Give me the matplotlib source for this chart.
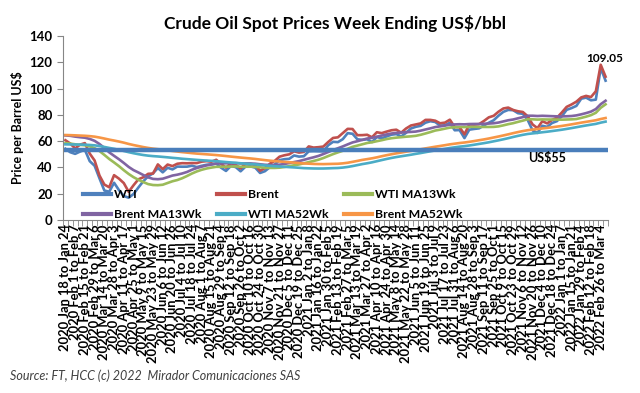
import matplotlib
matplotlib.use("Agg")
import matplotlib.pyplot as plt
import numpy as np

plt.rcParams['font.family'] = ['Lato', 'DejaVu Sans']

# weekly spot prices US$/bbl (first week: 2020 Jan 18-24, one extra week after Mar 4 2022)
wti = [54.19, 51.56, 50.32, 52.05, 53.38, 44.76, 41.28, 31.73, 22.43, 21.51,
       28.34, 22.76, 18.27, 16.94, 19.78, 24.74, 29.43, 33.25, 35.49, 39.55,
       36.26, 39.75, 38.49, 40.65, 40.55, 40.59, 41.29, 40.27, 41.22, 42.01,
       42.34, 42.97, 39.77, 37.33, 41.11, 40.25, 37.05, 40.60, 40.88, 39.85,
       35.79, 37.14, 40.13, 42.15, 45.53, 46.26, 46.57, 49.10, 48.23, 48.52,
       52.24, 52.36, 52.27, 52.20, 56.85, 59.47, 59.24, 61.50, 66.09, 65.61,
       61.42, 60.97, 61.45, 59.32, 63.13, 62.14, 63.58, 64.90, 65.37, 63.58,
       66.32, 69.62, 70.91, 71.64, 74.05, 75.16, 74.56, 71.81, 72.07, 73.95,
       68.28, 68.44, 62.32, 68.74, 69.29, 69.72, 71.97, 73.98, 75.88, 79.35,
       82.28, 83.76, 83.57, 81.27, 80.79, 76.10, 68.15, 66.26, 71.67, 70.86,
       73.79, 75.21, 78.90, 83.82, 85.14, 86.82, 92.31, 93.10, 91.07, 91.59,
       115.68, 106.00]

brent = [60.69, 58.16, 54.47, 57.32, 58.50, 50.52, 45.27, 33.85, 26.98, 24.93,
         34.11, 31.48, 28.08, 21.44, 26.44, 30.97, 32.50, 35.13, 35.33, 42.30,
         38.73, 42.19, 41.02, 42.80, 43.24, 43.14, 43.34, 43.30, 44.40, 44.80,
         44.35, 45.81, 42.66, 39.83, 43.15, 41.92, 39.27, 42.85, 42.93, 41.77,
         37.46, 39.45, 42.78, 44.96, 48.18, 49.25, 49.97, 52.26, 51.29, 51.80,
         55.99, 55.10, 55.41, 55.88, 59.34, 62.43, 62.91, 66.13, 69.36, 69.22,
         64.53, 64.57, 64.86, 62.95, 66.77, 66.11, 67.25, 68.28, 68.71, 66.44,
         69.63, 71.89, 72.69, 73.51, 76.18, 76.17, 75.55, 73.59, 74.10, 76.33,
         70.70, 70.59, 65.18, 72.70, 72.61, 72.92, 75.34, 78.09, 79.28, 82.39,
         84.86, 85.53, 83.72, 82.74, 82.17, 78.89, 72.72, 69.88, 75.15, 73.52,
         76.14, 77.78, 81.75, 86.06, 87.89, 90.03, 93.27, 94.44, 93.54, 97.93,
         118.11, 109.05]

wti_ma13 = [58.49, 58.13, 57.60, 57.16, 56.83, 56.02, 54.65, 52.47, 49.54, 46.45,
            43.78, 40.99, 37.89, 35.03, 32.58, 30.61, 28.87, 27.32, 26.61, 26.48,
            26.83, 28.16, 29.47, 30.41, 31.78, 33.50, 35.37, 36.95, 38.21, 39.18,
            39.88, 40.46, 40.47, 40.56, 40.66, 40.80, 40.52, 40.52, 40.55, 40.43,
            40.09, 39.78, 39.63, 39.62, 39.81, 40.31, 41.02, 41.64, 42.25, 43.13,
            44.03, 44.91, 45.87, 47.13, 48.65, 50.13, 51.45, 52.68, 54.20, 55.67,
            56.62, 57.60, 58.59, 59.13, 59.96, 60.72, 61.60, 62.22, 62.67, 63.00,
            63.38, 63.65, 64.05, 64.84, 65.85, 66.90, 68.07, 68.74, 69.51, 70.30,
            70.56, 70.80, 70.70, 70.89, 70.86, 70.77, 70.80, 70.79, 70.85, 71.22,
            72.02, 72.92, 73.66, 74.66, 75.61, 76.67, 76.62, 76.39, 76.54, 76.46,
            76.44, 76.39, 76.35, 76.47, 76.58, 76.83, 77.68, 78.63, 79.78, 81.58,
            85.38, 88.02]

brent_ma13 = [64.33, 64.06, 63.44, 62.98, 62.61, 61.69, 60.22, 57.81, 54.80, 51.47,
              48.82, 46.24, 43.41, 40.39, 37.95, 36.15, 34.24, 32.44, 31.27, 31.04,
              31.42, 32.59, 33.82, 34.49, 35.40, 36.56, 38.24, 39.54, 40.57, 41.52,
              42.23, 43.03, 43.06, 43.14, 43.22, 43.29, 43.02, 42.99, 42.97, 42.85,
              42.40, 42.02, 41.86, 41.91, 42.09, 42.60, 43.38, 44.08, 44.80, 45.77,
              46.78, 47.71, 48.76, 50.18, 51.71, 53.22, 54.60, 55.98, 57.53, 59.01,
              59.95, 60.97, 61.98, 62.51, 63.41, 64.24, 65.11, 65.80, 66.28, 66.55,
              66.82, 67.02, 67.28, 67.97, 68.87, 69.74, 70.71, 71.23, 71.85, 72.54,
              72.73, 72.87, 72.78, 73.01, 73.07, 73.09, 73.23, 73.37, 73.61, 74.14,
              75.01, 75.89, 76.45, 77.38, 78.27, 79.33, 79.33, 79.12, 79.29, 79.15,
              79.00, 78.88, 78.83, 78.93, 79.11, 79.59, 80.40, 81.35, 82.47, 84.41,
              88.12, 90.73]

wti_ma52 = [57.56, 57.49, 57.44, 57.37, 57.30, 57.09, 56.80, 56.29, 55.58, 54.84,
            54.17, 53.38, 52.50, 51.61, 50.80, 50.09, 49.45, 48.96, 48.61, 48.34,
            48.02, 47.68, 47.30, 46.98, 46.60, 46.31, 46.02, 45.73, 45.47, 45.22,
            45.00, 44.76, 44.44, 44.10, 43.78, 43.48, 43.17, 42.90, 42.65, 42.33,
            41.94, 41.55, 41.21, 40.91, 40.73, 40.48, 40.22, 40.00, 39.74, 39.46,
            39.33, 39.21, 39.17, 39.19, 39.31, 39.46, 39.57, 39.89, 40.37, 41.02,
            41.77, 42.53, 43.16, 43.87, 44.73, 45.60, 46.44, 47.21, 47.90, 48.49,
            49.08, 49.66, 50.33, 50.94, 51.62, 52.29, 52.94, 53.54, 54.13, 54.78,
            55.30, 55.81, 56.19, 56.69, 57.26, 57.88, 58.47, 59.12, 59.87, 60.61,
            61.41, 62.25, 63.17, 64.02, 64.80, 65.46, 65.89, 66.28, 66.76, 67.18,
            67.67, 68.18, 68.69, 69.30, 69.93, 70.60, 71.28, 71.93, 72.54, 73.12,
            74.07, 74.85]

brent_ma52 = [64.65, 64.56, 64.41, 64.24, 64.08, 63.80, 63.41, 62.76, 61.99, 61.16,
              60.46, 59.69, 58.85, 57.87, 57.02, 56.26, 55.49, 54.85, 54.29, 53.88,
              53.43, 52.99, 52.50, 52.09, 51.64, 51.27, 50.88, 50.52, 50.25, 49.98,
              49.70, 49.41, 49.05, 48.66, 48.25, 47.87, 47.50, 47.16, 46.84, 46.45,
              45.99, 45.55, 45.15, 44.80, 44.52, 44.23, 43.94, 43.67, 43.35, 43.02,
              42.85, 42.66, 42.56, 42.52, 42.61, 42.71, 42.79, 43.09, 43.56, 44.24,
              44.96, 45.72, 46.31, 46.92, 47.66, 48.52, 49.31, 50.02, 50.72, 51.32,
              51.98, 52.55, 53.20, 53.81, 54.48, 55.12, 55.75, 56.33, 56.92, 57.56,
              58.06, 58.56, 58.96, 59.48, 60.05, 60.69, 61.31, 62.00, 62.77, 63.53,
              64.34, 65.18, 66.07, 66.90, 67.66, 68.31, 68.79, 69.18, 69.67, 70.08,
              70.55, 71.05, 71.55, 72.14, 72.77, 73.43, 74.08, 74.69, 75.28, 75.89,
              76.83, 77.60]

threshold = 53  # line labelled US$55

week_labels = [
    "2020 Jan 18 to Jan 24", "2020 Feb 1 to Feb 7", "2020 Feb 15 to Feb 21",
    "2020 Feb 29 to Mar 6", "2020 Mar 14 to Mar 20", "2020 Mar 28 to Apr 3",
    "2020 Apr 11 to Apr 17", "2020 Apr 25 to May 1", "2020 May 9 to May 15",
    "2020 May 23 to May 29", "2020 Jun 6 to Jun 12", "2020 Jun 20 to Jun 26",
    "2020 Jul 4 to Jul 10", "2020 Jul 18 to Jul 24", "2020 Aug 1 to Aug 7",
    "2020 Aug 15 to Aug 21", "2020 Aug 29 to Sep 4", "2020 Sep 12 to Sep 18",
    "2020 Sep 26 to Oct 2", "2020 Oct 10 to Oct 16", "2020 Oct 24 to Oct 30",
    "2020 Nov 7 to Nov 13", "2020 Nov 21 to Nov 27", "2020 Dec 5 to Dec 11",
    "2020 Dec 19 to Dec 25", "2021 Jan 2 to Jan 8", "2021 Jan 16 to Jan 22",
    "2021 Jan 30 to Feb 5", "2021 Feb 13 to Feb 19", "2021 Feb 27 to Mar 5",
    "2021 Mar 13 to Mar 19", "2021 Mar 27 to Apr 2", "2021 Apr 10 to Apr 16",
    "2021 Apr 24 to Apr 30", "2021 May 8 to May 14", "2021 May 22 to May 28",
    "2021 Jun 5 to Jun 11", "2021 Jun 19 to Jun 25", "2021 Jul 3 to Jul 9",
    "2021 Jul 17 to Jul 23", "2021 Jul 31 to Aug 6", "2021 Aug 14 to Aug 20",
    "2021 Aug 28 to Sep 3", "2021 Sep 11 to Sep 17", "2021 Sep 25 to Oct 1",
    "2021 Oct 9 to Oct 15", "2021 Oct 23 to Oct 29", "2021 Nov 6 to Nov 12",
    "2021 Nov 20 to Nov 26", "2021 Dec 4 to Dec 10", "2021 Dec 18 to Dec 24",
    "2022 Jan 1 to Jan 7", "2022 Jan 15 to Jan 21", "2022 Jan 29 to Feb 4",
    "2022 Feb 12 to Feb 18", "2022 Feb 26 to Mar 4"]

n = len(wti)
x = np.arange(n)

fig = plt.figure(figsize=(6.4, 3.93), dpi=100)
ax = fig.add_axes([0.0984, 0.4402, 0.8516, 0.4682])

lw = 1.9
l1, = ax.plot(x, wti, color='#4F81BD', lw=lw, label='WTI')
l2, = ax.plot(x, brent, color='#C0504D', lw=lw, label='Brent')
l3, = ax.plot(x, wti_ma13, color='#9BBB59', lw=lw, label='WTI MA13Wk')
l4, = ax.plot(x, brent_ma13, color='#8064A2', lw=lw, label='Brent MA13Wk')
l5, = ax.plot(x, wti_ma52, color='#4BACC6', lw=lw, label='WTI MA52Wk')
l6, = ax.plot(x, brent_ma52, color='#F79646', lw=lw, label='Brent MA52Wk')
ax.axhline(threshold, color='#4A7EBB', lw=3.2)

ax.annotate(f"{brent[-1]:.2f}", (x[-1], brent[-1]), xytext=(-1, 9),
            textcoords='offset points', ha='center', va='bottom',
            fontsize=8.5, fontweight='bold')
ax.text(99, 47, 'US$55', ha='center', va='center', fontsize=9, fontweight='bold')

ax.set_xlim(-0.5, n - 0.5)
ax.set_ylim(0, 140)
ax.set_yticks(range(0, 141, 20))
ax.set_xticks(x[:2 * len(week_labels):2])
ax.set_xticklabels(week_labels, rotation=90, fontsize=9.3, fontweight='bold')
ax.set_xticks(np.arange(n + 1) - 0.5, minor=True)
ax.tick_params(axis='x', which='major', length=0, pad=3)
ax.tick_params(axis='x', which='minor', length=4, color='#868686', direction='out')
ax.tick_params(axis='y', length=4, color='#868686', labelsize=9.5)
for lab in ax.get_yticklabels():
    lab.set_fontweight('bold')
for s in ['top', 'right']:
    ax.spines[s].set_visible(False)
for s in ['left', 'bottom']:
    ax.spines[s].set_color('#868686')

ax.set_ylabel('Price per Barrel US$', fontsize=9, fontweight='bold', labelpad=4)
ax.set_title('Crude Oil Spot Prices Week Ending US$/bbl', fontsize=12.5,
             fontweight='bold', pad=5)

# legend: column-major fill, so order handles to get the reference's rows
order = [l1, l4, l2, l5, l3, l6]
leg = ax.legend(order, [l.get_label() for l in order],
                ncol=3, loc='lower left', bbox_to_anchor=(0.017, -0.06),
                frameon=False, handlelength=2.3, handletextpad=0.2,
                columnspacing=1.3, labelspacing=0.75,
                prop={'weight': 'bold', 'size': 8.8})
for h in leg.get_lines():
    h.set_linewidth(3)

fig.text(0.016, 0.032, 'Source: FT, HCC (c) 2022  Mirador Comunicaciones SAS',
         fontsize=9, style='italic', color='#404040')

fig.savefig('out.png', dpi=100)
